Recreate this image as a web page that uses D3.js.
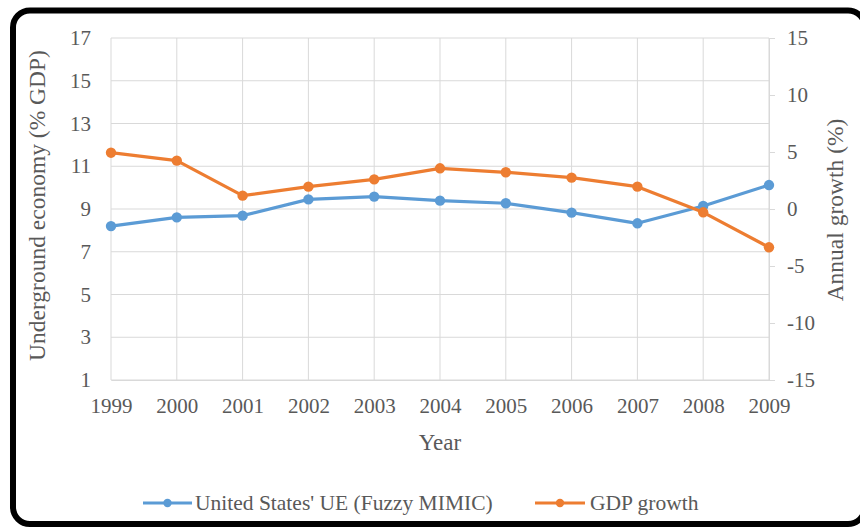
<!DOCTYPE html>
<html>
<head>
<meta charset="utf-8">
<script src="https://cdn.jsdelivr.net/npm/d3@7"></script>
<style>
  html, body { margin: 0; padding: 0; background: #fff; }
  svg { display: block; }
  text { font-family: "Liberation Serif", "Times New Roman", serif; fill: #595959; }
</style>
</head>
<body>
<svg id="chart" width="860" height="527"></svg>
<script>
const years = [1999, 2000, 2001, 2002, 2003, 2004, 2005, 2006, 2007, 2008, 2009];
const ueValues = [8.20, 8.61, 8.69, 9.45, 9.58, 9.39, 9.27, 8.83, 8.33, 9.14, 10.12];
const gdpValues = [4.94, 4.24, 1.17, 1.96, 2.60, 3.57, 3.22, 2.75, 1.96, -0.29, -3.36];
const leftTicks = [1, 3, 5, 7, 9, 11, 13, 15, 17];
const rightTicks = [-15, -10, -5, 0, 5, 10, 15];
const seriesNames = ["United States' UE (Fuzzy MIMIC)", "GDP growth"];
const seriesColors = ["#5B9BD5", "#ED7D31"];

const svg = d3.select("#chart");
const pLeft = 111, pRight = 769, pTop = 38, pBottom = 380;

const x = d3.scalePoint().domain(years).range([pLeft, pRight]);
const yL = d3.scaleLinear().domain([1, 17]).range([pBottom, pTop]);
const yR = d3.scaleLinear().domain([-15, 15]).range([pBottom, pTop]);

const grid = "#d9d9d9";
const fontFam = '"Liberation Serif", "Times New Roman", serif';

// horizontal gridlines
svg.append("g").selectAll("line").data(leftTicks).join("line")
  .attr("x1", pLeft).attr("x2", pRight)
  .attr("y1", d => yL(d)).attr("y2", d => yL(d))
  .attr("stroke", grid).attr("stroke-width", 1);
// vertical gridlines
svg.append("g").selectAll("line").data(years).join("line")
  .attr("x1", d => x(d)).attr("x2", d => x(d))
  .attr("y1", pTop).attr("y2", pBottom)
  .attr("stroke", grid).attr("stroke-width", 1);

// left axis
const gL = svg.append("g").attr("transform", `translate(${pLeft},0)`)
  .call(d3.axisLeft(yL).tickValues(leftTicks).tickSize(0).tickPadding(20).tickFormat(d => String(d)));
gL.attr("font-family", fontFam);
gL.select(".domain").remove();
gL.selectAll("text").style("font-size", "21px").attr("fill", "#595959");

// right axis
const gR = svg.append("g").attr("transform", `translate(${pRight},0)`)
  .call(d3.axisRight(yR).tickValues(rightTicks).tickSize(6).tickSizeOuter(0).tickPadding(12).tickFormat(d => String(d)));
gR.attr("font-family", fontFam);
gR.select(".domain").attr("stroke", grid);
gR.selectAll(".tick line").attr("stroke", grid);
gR.selectAll("text").style("font-size", "21px").attr("fill", "#595959");

// bottom axis
const gB = svg.append("g").attr("transform", `translate(0,${pBottom})`)
  .call(d3.axisBottom(x).tickSize(0).tickPadding(18).tickFormat(d => String(d)));
gB.attr("font-family", fontFam);
gB.select(".domain").attr("stroke", grid);
gB.selectAll("text").style("font-size", "21px").attr("fill", "#595959");

// series
const lineL = d3.line().x((d, i) => x(years[i])).y(d => yL(d));
const lineR = d3.line().x((d, i) => x(years[i])).y(d => yR(d));

function drawSeries(values, lineGen, yScale, color) {
  svg.append("path").datum(values)
    .attr("d", lineGen).attr("fill", "none")
    .attr("stroke", color).attr("stroke-width", 3.2)
    .attr("stroke-linejoin", "round").attr("stroke-linecap", "round");
  svg.append("g").selectAll("circle").data(values).join("circle")
    .attr("cx", (d, i) => x(years[i])).attr("cy", d => yScale(d))
    .attr("r", 5.2).attr("fill", color);
}
drawSeries(ueValues, lineL, yL, seriesColors[0]);
drawSeries(gdpValues, lineR, yR, seriesColors[1]);

// axis titles
svg.append("text")
  .attr("transform", "translate(45,205.5) rotate(-90)")
  .attr("text-anchor", "middle").style("font-size", "23.5px")
  .text("Underground economy (% GDP)");
svg.append("text")
  .attr("transform", "translate(843,210) rotate(-90)")
  .attr("text-anchor", "middle").style("font-size", "23.5px")
  .text("Annual growth (%)");
svg.append("text")
  .attr("x", (pLeft + pRight) / 2).attr("y", 450)
  .attr("text-anchor", "middle").style("font-size", "23px")
  .text("Year");

// legend
const legendItems = [
  { name: seriesNames[0], color: seriesColors[0], x0: 143, x1: 192, tx: 195 },
  { name: seriesNames[1], color: seriesColors[1], x0: 535, x1: 585, tx: 590 }
];
const ly = 503;
legendItems.forEach(it => {
  svg.append("line").attr("x1", it.x0).attr("x2", it.x1).attr("y1", ly).attr("y2", ly)
    .attr("stroke", it.color).attr("stroke-width", 3.2);
  svg.append("circle").attr("cx", (it.x0 + it.x1) / 2).attr("cy", ly).attr("r", 4.2)
    .attr("fill", it.color);
  svg.append("text").attr("x", it.tx).attr("y", ly + 7)
    .style("font-size", "21.5px").text(it.name);
});

// frame
svg.append("rect")
  .attr("x", 13).attr("y", 10.5).attr("width", 852).attr("height", 513.5)
  .attr("rx", 17).attr("ry", 17)
  .attr("fill", "none").attr("stroke", "#000").attr("stroke-width", 6);
</script>
</body>
</html>
